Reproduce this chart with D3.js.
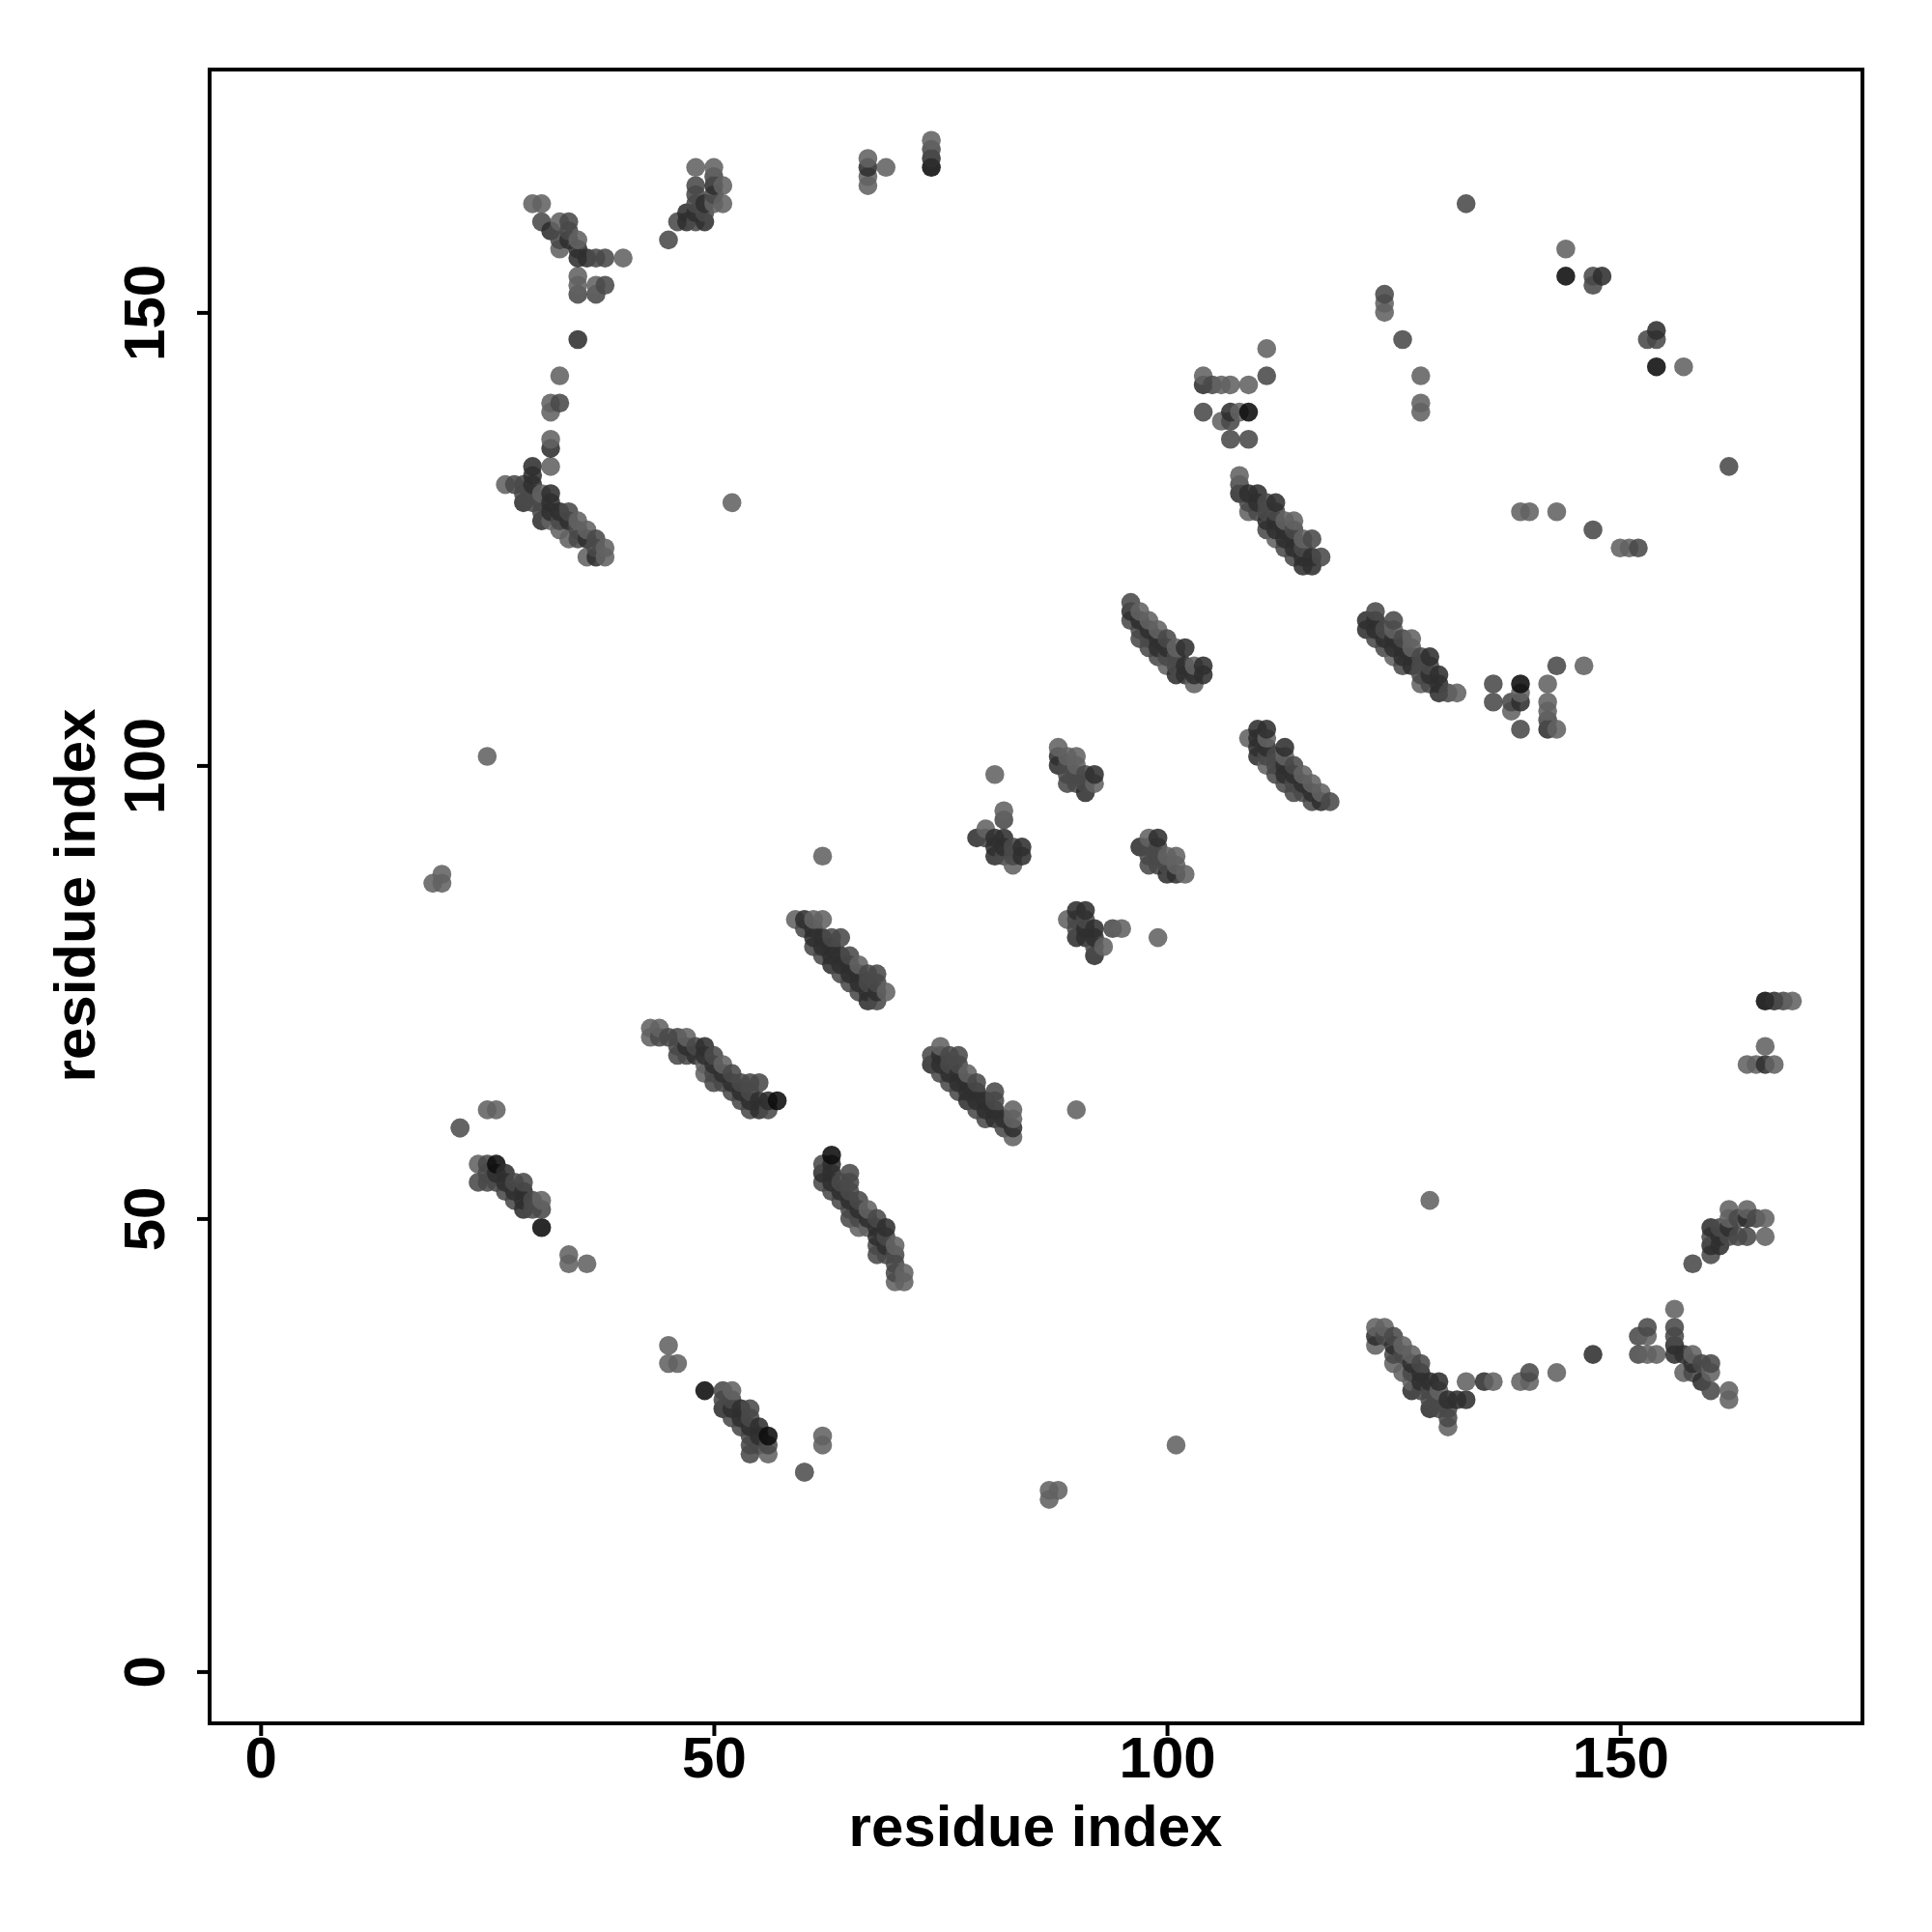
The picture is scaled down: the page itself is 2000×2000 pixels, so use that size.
<!DOCTYPE html>
<html><head><meta charset="utf-8">
<script src="https://cdnjs.cloudflare.com/ajax/libs/d3/7.8.5/d3.min.js"></script>
<style>html,body{margin:0;background:#fff}svg{display:block}text{font-family:"Liberation Sans",Arial,sans-serif;font-weight:bold;fill:#000}</style>
</head><body><svg id="c" width="2000" height="2000"></svg>
<script>
const tickValues=[0,50,100,150];
const axisTitle="residue index";
const shadeGray=[98,73,47,13];
// upper-triangle contacts by shade: [i,j]; the map is symmetric
const shade1=[[19,87],[20,88],[20,87],[22,60],[25,62],[26,62],[25,101],[24,56],[27,131],[30,162],[31,162],[31,52],[31,130],[32,140],[32,139],[32,136],[32,133],[32,127],[33,143],[33,160],[33,157],[33,126],[34,125],[34,46],[34,45],[35,158],[35,154],[35,153],[35,127],[36,126],[36,123],[36,45],[37,153],[38,124],[38,123],[40,156],[43,71],[43,70],[44,71],[47,70],[49,67],[49,66],[51,67],[48,166],[50,166],[50,162],[51,164],[51,162],[52,129],[59,83],[61,83],[62,83],[62,90],[60,22],[66,78],[67,167],[67,165],[67,164],[69,166],[69,75],[74,169],[80,93],[81,99],[82,95],[83,89],[88,102],[89,101],[90,101],[90,100],[92,98],[97,117],[98,116],[99,115],[100,111],[101,113],[103,111],[103,109],[104,143],[106,142],[107,142],[109,142],[108,139],[106,138],[108,132],[109,128],[111,146],[112,125],[113,127],[114,127],[115,125],[124,151],[124,150],[128,143],[128,140],[128,139],[144,157]];
const shade2=[[24,54],[25,56],[25,55],[25,54],[26,54],[27,53],[28,54],[28,52],[29,54],[30,52],[30,51],[31,51],[28,131],[29,131],[29,130],[30,130],[30,129],[31,129],[31,128],[33,140],[33,127],[34,128],[34,160],[34,159],[31,160],[33,158],[35,152],[35,126],[35,125],[37,156],[37,152],[37,125],[37,124],[38,156],[38,153],[44,70],[45,70],[45,158],[46,70],[46,69],[46,68],[46,160],[47,68],[48,69],[48,164],[48,163],[48,162],[48,160],[49,161],[50,165],[50,163],[50,68],[50,66],[50,65],[51,65],[52,66],[52,64],[53,65],[53,63],[54,65],[54,64],[54,62],[55,65],[56,62],[60,82],[61,80],[62,79],[63,81],[64,81],[64,77],[65,79],[65,76],[66,75],[67,77],[67,76],[68,77],[68,76],[68,74],[74,168],[80,92],[82,94],[82,90],[83,91],[83,90],[89,100],[89,99],[89,98],[90,99],[90,98],[91,99],[91,98],[96,118],[96,116],[97,115],[97,114],[98,114],[98,113],[99,112],[100,114],[100,112],[101,112],[101,111],[104,139],[105,142],[107,138],[107,136],[109,136],[111,143],[108,131],[109,129],[110,128],[111,129],[111,128],[111,126],[112,128],[113,124],[114,126],[114,123],[115,124],[116,125],[117,123],[124,152],[126,147],[133,162],[147,153],[147,154]];
const shade3=[[26,55],[27,55],[27,54],[28,53],[29,53],[29,52],[29,51],[29,129],[30,133],[30,132],[30,131],[31,127],[32,159],[32,130],[32,129],[32,128],[32,135],[33,128],[34,158],[34,127],[35,157],[35,156],[35,147],[36,156],[36,125],[37,123],[47,161],[47,160],[47,69],[48,161],[48,68],[49,162],[49,160],[49,69],[49,68],[50,164],[50,67],[51,66],[52,65],[53,64],[54,63],[55,63],[55,62],[56,63],[60,83],[61,82],[61,81],[62,81],[62,80],[63,80],[63,79],[63,78],[64,79],[64,78],[65,78],[65,77],[66,77],[66,76],[67,75],[67,74],[68,75],[67,166],[74,167],[79,92],[81,92],[81,91],[81,90],[82,92],[82,91],[84,91],[84,90],[88,101],[88,100],[91,97],[92,99],[96,117],[97,116],[98,115],[99,114],[99,113],[100,113],[101,110],[102,113],[102,111],[102,110],[103,110],[104,111],[104,110],[104,142],[107,139],[108,130],[109,130],[110,130],[110,129],[111,127],[112,129],[112,127],[112,126],[113,126],[113,125],[114,125],[114,124],[115,123],[115,122],[116,123],[116,122],[148,154]];
const shade4=[[26,56],[31,49],[57,63],[74,166],[109,139],[144,154]];

const x=d3.scaleLinear().domain([0,150]).range([269.8,1677.2]);
const y=d3.scaleLinear().domain([0,150]).range([1730.4,323.4]);
const frame={left:217,right:1928,top:72,bottom:1784};
const svg=d3.select("#c");

let contacts=[];
[shade1,shade2,shade3,shade4].forEach((list,s)=>list.forEach(([i,j])=>{
  contacts.push({i,j,s}); contacts.push({i:j,j:i,s});
}));
contacts.sort((a,b)=>d3.ascending(a.i,b.i)||d3.ascending(a.j,b.j));

svg.append("g").selectAll("circle").data(contacts).join("circle")
  .attr("cx",d=>x(d.i)).attr("cy",d=>y(d.j)).attr("r",9.8)
  .attr("fill",d=>{const g=shadeGray[d.s];return `rgb(${g},${g},${g})`;})
  .attr("fill-opacity",0.88);

svg.append("rect").attr("x",frame.left).attr("y",frame.top)
  .attr("width",frame.right-frame.left).attr("height",frame.bottom-frame.top)
  .attr("fill","none").attr("stroke","#000").attr("stroke-width",4);

const gx=svg.append("g").attr("transform",`translate(0,${frame.bottom})`)
  .call(d3.axisBottom(x).tickValues(tickValues).tickSize(13).tickFormat(d3.format("d")));
gx.select(".domain").remove();
gx.selectAll("line").attr("stroke-width",4);
gx.selectAll("text").attr("font-size",60).attr("dy",null).attr("y",56).attr("fill","#000").attr("font-family",'"Liberation Sans"');

const gy=svg.append("g").attr("transform",`translate(${frame.left},0)`)
  .call(d3.axisLeft(y).tickValues(tickValues).tickSize(13).tickFormat(d3.format("d")));
gy.select(".domain").remove();
gy.selectAll("line").attr("stroke-width",4);
gy.selectAll("text").attr("font-size",60).attr("font-family",'"Liberation Sans"').attr("fill","#000")
  .attr("x",null).attr("dy",null).attr("text-anchor","middle")
  .attr("transform","translate(-47,0) rotate(-90)");

svg.append("text").attr("x",1072).attr("y",1911).attr("text-anchor","middle").attr("font-size",60).text(axisTitle);
svg.append("text").attr("transform","translate(98,927) rotate(-90)").attr("text-anchor","middle").attr("font-size",60).text(axisTitle);
</script></body></html>
